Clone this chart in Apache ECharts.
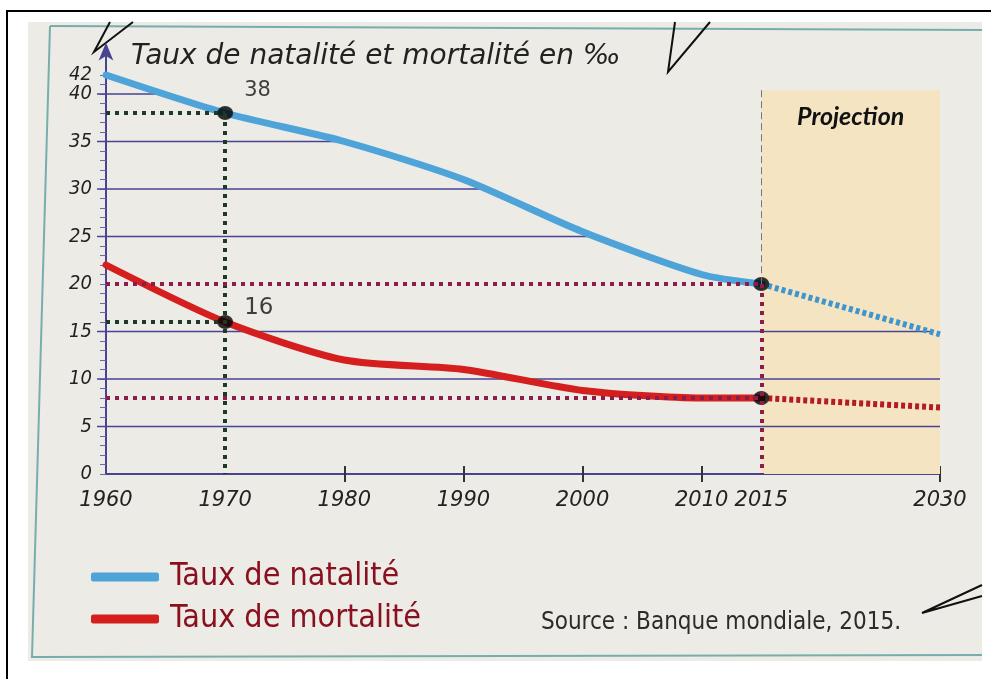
<!DOCTYPE html>
<html>
<head>
<meta charset="utf-8">
<script src="https://cdn.jsdelivr.net/npm/echarts@6/dist/echarts.min.js"></script>
<style>
  html, body { margin: 0; padding: 0; background: #ffffff; }
  #chart { width: 991px; height: 679px; }
</style>
</head>
<body>
<div id="chart"></div>
<script>
// données observées (Banque mondiale)
const years = [1960, 1970, 1980, 1990, 2000, 2010, 2015];
const natalite = [42, 38, 35, 31, 25.5, 21, 20];
const mortalite = [22, 16, 12, 11, 8.8, 8, 8];

// projection 2015 -> 2030
const projYears = [2015, 2030];
const nataliteProj = [20, 14.7];
const mortaliteProj = [8, 7];

const xLabels = [1960, 1970, 1980, 1990, 2000, 2010, 2015, 2030];
const xTicks = [1980, 1990, 2000, 2010, 2030];
const yLabels = [0, 5, 10, 15, 20, 25, 30, 35, 40];
const yTopLabel = [42];
const gridLevels = [5, 10, 15, 25, 30, 35, 40];
const projectionTop = 40.4;

const BLUE = "#4ea3d9";
const RED = "#d51f1f";
const GRID = "#4a4394";
const GREEN_DOT = "#1d3b24";
const MAROON_DOT = "#8c1c4c";
const FONT = "'DejaVu Sans', sans-serif";
const NARROW = "'DejaVu Sans Condensed', 'DejaVu Sans', sans-serif";

const pair = (xs, ys) => xs.map((x, i) => [x, ys[i]]);
const valueAt = (arr, year) => arr[years.indexOf(year)];

// where the birth-rate curve drops below a level (grid lines stop under it)
function crossYear(level) {
  const xs = years.concat(projYears.slice(1));
  const ys = natalite.concat(nataliteProj.slice(1));
  for (let i = 0; i < xs.length - 1; i++) {
    if (ys[i] >= level && ys[i + 1] < level) {
      return xs[i] + (ys[i] - level) / (ys[i] - ys[i + 1]) * (xs[i + 1] - xs[i]);
    }
  }
  return xs[xs.length - 1];
}

const xMin = years[0];
const xMax = projYears[projYears.length - 1];
const projStart = projYears[0];
const yearA = 1970;
const yearB = 2015;
const natA = valueAt(natalite, yearA), morA = valueAt(mortalite, yearA);
const natB = valueAt(natalite, yearB), morB = valueAt(mortalite, yearB);

const chart = echarts.init(document.getElementById("chart"));

const dotted = (color) => ({ color: color, width: 4, type: [4, 5] });
const pointLabel = (size, offset) => ({
  show: true, position: "right", offset: offset,
  fontFamily: FONT, fontSize: size, color: "#111"
});
const yLabelStyle = {
  margin: 14, hideOverlap: false,
  fontFamily: NARROW, fontSize: 20, fontStyle: "italic", color: "#222"
};

chart.setOption({
  animation: false,
  backgroundColor: "#ffffff",
  graphic: [
    { type: "rect", shape: { x: 7, y: 11, width: 990, height: 700 },
      style: { fill: "none", stroke: "#000", lineWidth: 2 }, z: -10 },
    { type: "rect", shape: { x: 28, y: 22, width: 954, height: 639 },
      style: { fill: "#ecebe6" }, z: -9 },
    { type: "polyline", shape: { points: [[50, 26], [982, 30]] },
      style: { stroke: "#77aeac", lineWidth: 2, fill: "none" }, z: -8 },
    { type: "polyline", shape: { points: [[50, 26], [32, 657], [982, 655]] },
      style: { stroke: "#77aeac", lineWidth: 2, fill: "none" }, z: -8 },
    { type: "polyline", shape: { points: [[110, 22], [94, 52], [133, 22]] },
      style: { stroke: "#111", lineWidth: 2, fill: "none" } },
    { type: "polyline", shape: { points: [[675, 22], [668, 72], [710, 22]] },
      style: { stroke: "#111", lineWidth: 2, fill: "none" } },
    { type: "polyline", shape: { points: [[982, 585], [922, 613], [982, 596]] },
      style: { stroke: "#111", lineWidth: 2, fill: "none" } }
  ],
  title: [
    {
      text: "Taux de natalité et mortalité en ‰",
      left: 126, top: 38,
      textStyle: { fontFamily: FONT, fontSize: 28, fontWeight: "normal", fontStyle: "italic", color: "#222" }
    },
    {
      text: "Source : Banque mondiale, 2015.",
      left: 536, top: 606,
      textStyle: { fontFamily: NARROW, fontSize: 24, fontWeight: "normal", color: "#2b2b2b" }
    }
  ],
  legend: {
    data: ["Taux de natalité", "Taux de mortalité"],
    orient: "vertical",
    left: 86, top: 556,
    itemWidth: 68, itemHeight: 9,
    itemGap: 10,
    icon: "roundRect",
    textStyle: { fontFamily: NARROW, fontSize: 32, color: "#8a1020", padding: [0, 0, 0, 6] }
  },
  grid: { left: 106, right: 51, top: 46.5, bottom: 205 },
  xAxis: [
    {
      type: "value", min: xMin, max: xMax,
      splitLine: { show: false },
      axisLine: { lineStyle: { color: GRID, width: 2 } },
      axisTick: { customValues: xTicks, length: 8, lineStyle: { color: "#333", width: 2 } },
      axisLabel: {
        customValues: xLabels, margin: 16, hideOverlap: false,
        fontFamily: FONT, fontSize: 21, fontStyle: "italic", color: "#222",
        formatter: (v) => String(v)
      }
    },
    {
      type: "value", min: xMin, max: xMax, position: "bottom",
      splitLine: { show: false },
      axisLine: { show: false },
      axisTick: { customValues: xTicks, inside: true, length: 8, lineStyle: { color: "#333", width: 2 } },
      axisLabel: { show: false }
    }
  ],
  yAxis: [
    {
      type: "value", min: 0, max: 45,
      splitLine: { show: false },
      axisLine: {
        show: true, symbol: ["none", "arrow"], symbolSize: [11, 18], symbolOffset: [0, 4],
        lineStyle: { color: GRID, width: 2 }
      },
      axisTick: {
        customValues: Array.from({ length: 43 }, (_, i) => i),
        length: 6, lineStyle: { color: "#6b66a8", width: 1 }
      },
      axisLabel: Object.assign({ customValues: yLabels }, yLabelStyle)
    },
    {
      // libellé du sommet (42), serré contre 40
      type: "value", min: 0, max: 45, position: "left",
      splitLine: { show: false },
      axisLine: { show: false },
      axisTick: { show: false },
      axisLabel: Object.assign({ customValues: yTopLabel, verticalAlign: "middle" }, yLabelStyle)
    }
  ],
  series: [
    {
      // zone de projection
      type: "line", data: [], silent: true, z: 0,
      markArea: {
        silent: true,
        itemStyle: { color: "#f4e4c2" },
        label: {
          show: true, position: "insideTop", distance: 14,
          fontFamily: "Lato, sans-serif", fontSize: 25, fontWeight: "bold", fontStyle: "italic", color: "#111"
        },
        data: [[{ name: "Projection", coord: [projStart, 0] }, { coord: [xMax, projectionTop] }]]
      }
    },
    {
      // lignes horizontales du quadrillage, arrêtées sous la courbe de natalité
      type: "custom", z: 1, silent: true,
      data: gridLevels.map((v) => [crossYear(v), v]),
      encode: { x: 0, y: 1 },
      renderItem: (params, api) => {
        const v = api.value(1);
        const p1 = api.coord([xMin, v]);
        const p2 = api.coord([api.value(0), v]);
        return {
          type: "line",
          shape: { x1: p1[0] - 9, y1: p1[1], x2: p2[0], y2: p2[1] },
          style: { stroke: GRID, lineWidth: 1.5 }
        };
      }
    },
    {
      // repères de lecture
      type: "line", data: [], silent: true, z: 2,
      markLine: {
        silent: true, symbol: "none", label: { show: false },
        data: [
          [{ coord: [xMin, natA], lineStyle: dotted(GREEN_DOT) }, { coord: [yearA, natA] }],
          [{ coord: [xMin, morA], lineStyle: dotted(GREEN_DOT) }, { coord: [yearA, morA] }],
          [{ coord: [yearA, natA], lineStyle: dotted(GREEN_DOT) }, { coord: [yearA, 0] }],
          [{ coord: [xMin, natB], lineStyle: dotted(MAROON_DOT) }, { coord: [yearB, natB] }],
          [{ coord: [xMin, morB], lineStyle: dotted(MAROON_DOT) }, { coord: [yearB, morB] }],
          [{ coord: [yearB, natB], lineStyle: dotted(MAROON_DOT) }, { coord: [yearB, 0] }],
          [{ coord: [yearB, projectionTop], lineStyle: { color: "#777", width: 1, type: [7, 4] } }, { coord: [yearB, natB] }]
        ]
      }
    },
    {
      name: "Taux de natalité", type: "line", z: 3,
      data: pair(years, natalite), smooth: 0.25, symbol: "none",
      lineStyle: { color: BLUE, width: 7, cap: "round", join: "round" },
      itemStyle: { color: BLUE }
    },
    {
      name: "Taux de mortalité", type: "line", z: 3,
      data: pair(years, mortalite), smooth: 0.25, symbol: "none",
      lineStyle: { color: RED, width: 7, cap: "round", join: "round" },
      itemStyle: { color: RED }
    },
    {
      name: "natalité projection", type: "line", z: 3,
      data: pair(projYears, nataliteProj), symbol: "none",
      lineStyle: { color: "#3f95cf", width: 6, type: [4, 3] }
    },
    {
      name: "mortalité projection", type: "line", z: 3,
      data: pair(projYears, mortaliteProj), symbol: "none",
      lineStyle: { color: "#b51c22", width: 6, type: [4, 3] }
    },
    {
      type: "scatter", z: 4, silent: true,
      symbol: "circle", symbolSize: [15, 13],
      itemStyle: { color: "#000", borderColor: "#222", borderWidth: 1 },
      label: { formatter: (p) => String(p.value[1]) },
      data: [
        { value: [yearA, natA], label: pointLabel(21, [6, -22]) },
        { value: [yearA, morA], label: pointLabel(23, [6, -14]) },
        { value: [yearB, natB], label: { show: false } },
        { value: [yearB, morB], label: { show: false } }
      ]
    }
  ]
});
</script>
</body>
</html>
